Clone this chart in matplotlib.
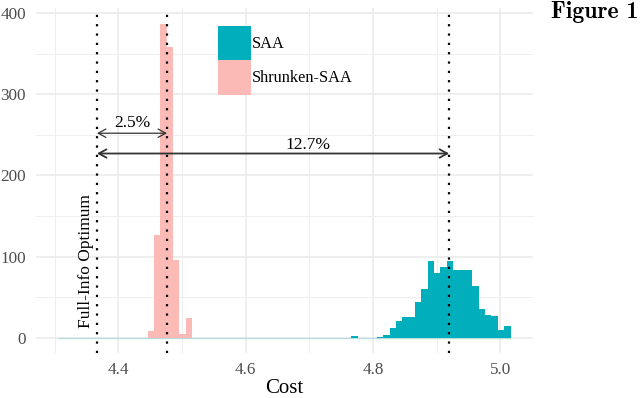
import numpy as np
import matplotlib.pyplot as plt
from matplotlib.patches import Patch

# histogram bins (common grid for both methods)
bin_start = 4.306
bin_width = 0.01

# counts per bin, SAA (from 4.306 up to 5.016)
saa_counts = [0] * 46 + [2, 0, 0, 0,
                         1.5, 3, 11.5, 21, 26, 26, 44, 60, 95, 80,
                         87, 94, 84, 84, 83, 64, 36, 28, 27, 10, 14]

# counts per bin, Shrunken-SAA (from 4.306 up to 5.016)
shrunken_counts = [0] * 14 + [8, 127, 387, 358, 96, 4, 24] + [0] * 50

# reference costs
full_info = 4.3665
shrunken_cost = 4.4765
saa_cost = 4.9196

pct_labels = ['2.5%', '12.7%']

teal = '#00AFBB'
pink = '#FBBAB6'
serif = ['Liberation Serif', 'DejaVu Serif']

plt.rcParams['font.family'] = serif

fig = plt.figure(figsize=(6.4, 3.98), dpi=100)
ax = fig.add_axes([0.056, 0.112, 0.777, 0.868])

lefts = bin_start + bin_width * np.arange(len(saa_counts))
ax.bar(lefts, saa_counts, width=bin_width, align='edge', color=teal,
       linewidth=0, zorder=2)
lefts2 = bin_start + bin_width * np.arange(len(shrunken_counts))
ax.bar(lefts2, shrunken_counts, width=bin_width, align='edge', color=pink,
       linewidth=0, zorder=2)
# zero-count bins show as a thin baseline
ax.hlines(0, lefts[0], lefts[-1] + bin_width, color='#bcdde0', lw=1, zorder=1.5)

# dotted reference lines
for xv in [full_info, shrunken_cost, saa_cost]:
    ax.axvline(xv, color='black', lw=1.6, ls=(0, (1, 3.2)), zorder=3)

# arrows with percentages
ax.annotate('', xy=(shrunken_cost, 252), xytext=(full_info, 252),
            arrowprops=dict(arrowstyle='<->,head_length=0.55,head_width=0.3',
                            lw=0.9, color='#333333', shrinkA=0, shrinkB=0))
ax.text((full_info + shrunken_cost) / 2, 265, pct_labels[0],
        ha='center', va='center', fontsize=12.5)
ax.annotate('', xy=(saa_cost, 227), xytext=(full_info, 227),
            arrowprops=dict(arrowstyle='<->,head_length=0.55,head_width=0.3',
                            lw=1.3, color='#333333', shrinkA=0, shrinkB=0))
ax.text(4.6986, 238, pct_labels[1], ha='center', va='center', fontsize=12.5)

ax.text(4.3485, 94, 'Full-Info Optimum', rotation=90,
        ha='center', va='center', fontsize=12.5)

# axes, grid
ax.set_xlim(4.2705, 5.0515)
ax.set_ylim(-19.35, 406.35)
ax.set_xticks([4.4, 4.6, 4.8, 5.0])
ax.set_xticklabels(['4.4', '4.6', '4.8', '5.0'])
ax.set_xticks([4.3, 4.5, 4.7, 4.9], minor=True)
ax.set_yticks([0, 100, 200, 300, 400])
ax.set_yticks([50, 150, 250, 350], minor=True)
ax.grid(which='major', color='#EBEBEB', lw=1.2)
ax.grid(which='minor', color='#EEEEEE', lw=0.7)
ax.set_axisbelow(True)
for s in ax.spines.values():
    s.set_visible(False)
ax.tick_params(which='both', length=0, labelsize=12.3, labelcolor='#4D4D4D')
ax.tick_params(axis='x', pad=6)
ax.tick_params(axis='y', pad=7)
ax.set_xlabel('Cost', fontsize=15, labelpad=1)

handles = [Patch(facecolor=teal, edgecolor='none'),
           Patch(facecolor=pink, edgecolor='none')]
ax.legend(handles, ['SAA', 'Shrunken-SAA'], loc='upper left',
          bbox_to_anchor=(0.366, 0.948), frameon=False, fontsize=11.8,
          handlelength=2.05, handleheight=2.85, labelspacing=0,
          handletextpad=0.05, borderpad=0, borderaxespad=0)

fig.text(0.997, 0.97, 'Figure 1', ha='right', va='center',
         fontsize=17, fontfamily='cmb10')

fig.savefig('out.png', dpi=100)
